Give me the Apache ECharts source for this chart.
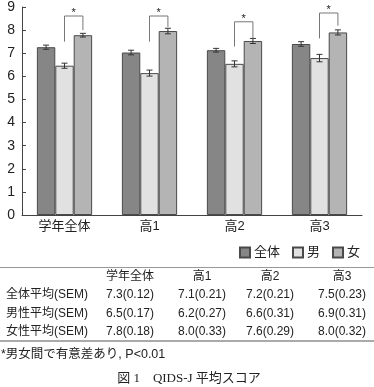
<!DOCTYPE html>
<html><head><meta charset="utf-8">
<script src="https://cdn.jsdelivr.net/npm/echarts@6/dist/echarts.min.js"></script>
<style>html,body{margin:0;padding:0;background:#fff}#c{width:374px;height:387px}</style>
</head><body><div id="c"></div>
<script>
const categories = ['学年全体', '高1', '高2', '高3'];
const seriesNames = ['全体', '男', '女'];
const allMean = [7.26, 7.03, 7.13, 7.40];
const maleMean = [6.46, 6.14, 6.54, 6.79];
const femaleMean = [7.78, 7.96, 7.53, 7.90];
const allErr = [0.09, 0.10, 0.08, 0.10];
const maleErr = [0.11, 0.13, 0.13, 0.16];
const femaleErr = [0.08, 0.12, 0.11, 0.11];
const bracketLeft = [7.5, 7.5, 7.29, 7.64];
const bracketRight = [8.0, 8.14, 7.64, 8.19];
const bracketTop = [8.61, 8.61, 8.36, 8.74];
const yMin = 0, yMax = 9;
const tableHeader = ['学年全体', '高1', '高2', '高3'];
const tableRowLabels = ['全体平均(SEM)', '男性平均(SEM)', '女性平均(SEM)'];
const tableAll = ['7.3(0.12)', '7.1(0.21)', '7.2(0.21)', '7.5(0.23)'];
const tableMale = ['6.5(0.17)', '6.2(0.27)', '6.6(0.31)', '6.9(0.31)'];
const tableFemale = ['7.8(0.18)', '8.0(0.33)', '7.6(0.29)', '8.0(0.32)'];
const footnote = '*男女間で有意差あり, P<0.01';
const caption = '図 1　QIDS-J 平均スコア';

const colors = ['#868686', '#e1e1e1', '#b4b4b4'];
const means = [allMean, maleMean, femaleMean];
const errs = [allErr, maleErr, femaleErr];
const GAP = 0.35;
const SANS = '"Liberation Sans", "Noto Sans CJK JP", sans-serif';
const SERIF = '"Liberation Serif", "Noto Sans CJK JP", serif';

const chart = echarts.init(document.getElementById('c'));

const barSeries = seriesNames.map((n, i) => ({
  name: n, type: 'bar', data: means[i],
  barGap: '0%', barCategoryGap: (GAP * 100) + '%',
  itemStyle: { color: colors[i], borderColor: '#4a4a4a', borderWidth: 1 },
  emphasis: { disabled: true }, z: 2
}));

const errData = [];
for (let s = 0; s < 3; s++) for (let c = 0; c < categories.length; c++) errData.push([c, means[s][c], errs[s][c], s]);

const errSeries = {
  type: 'custom', data: errData, encode: { x: 0, y: 1 }, z: 5, clip: false, silent: true,
  renderItem: function (params, api) {
    const c = api.value(0), v = api.value(1), e = api.value(2), s = api.value(3);
    const band = api.size([1, 0])[0];
    const bw = band * (1 - GAP) / 3;
    const x = api.coord([c, v])[0] + (s - 1) * bw;
    const yHi = api.coord([c, v + e])[1], yLo = api.coord([c, v - e])[1];
    const st = { stroke: '#333', lineWidth: 1 };
    return { type: 'group', children: [
      { type: 'line', shape: { x1: x, y1: yHi, x2: x, y2: yLo }, style: st },
      { type: 'line', shape: { x1: x - 3, y1: yHi, x2: x + 3, y2: yHi }, style: st },
      { type: 'line', shape: { x1: x - 3, y1: yLo, x2: x + 3, y2: yLo }, style: st }
    ]};
  }
};

const brData = categories.map((_, c) => [c, bracketLeft[c], bracketRight[c], bracketTop[c]]);
const bracketSeries = {
  type: 'custom', data: brData, encode: { x: 0, y: 3 }, z: 6, clip: false, silent: true,
  renderItem: function (params, api) {
    const c = api.value(0);
    const band = api.size([1, 0])[0];
    const bw = band * (1 - GAP) / 3;
    const cx = api.coord([c, 0])[0];
    const xl = cx, xr = cx + bw;
    const yl = api.coord([c, api.value(1)])[1];
    const yr = api.coord([c, api.value(2)])[1];
    const yt = api.coord([c, api.value(3)])[1];
    return { type: 'group', children: [
      { type: 'polyline', shape: { points: [[xl, yl], [xl, yt], [xr, yt], [xr, yr]] },
        style: { stroke: '#777', lineWidth: 1, fill: null } },
      { type: 'text', x: (xl + xr) / 2, y: yt - 3,
        style: { text: '*', fontSize: 11, fontFamily: SANS, fill: '#222', align: 'center', verticalAlign: 'middle' } }
    ]};
  }
};

const colX = [130, 202, 270, 342];
const rowY = [295, 314, 332];
const graphics = [];
graphics.push({ type: 'line', shape: { x1: 0, y1: 267.5, x2: 374, y2: 267.5 }, style: { stroke: '#999', lineWidth: 1 } });
graphics.push({ type: 'line', shape: { x1: 0, y1: 341, x2: 374, y2: 341 }, style: { stroke: '#aaa', lineWidth: 2 } });
tableHeader.forEach((t, i) => graphics.push({ type: 'text', x: colX[i], y: 277,
  style: { text: t, fontSize: 12, fontFamily: SANS, fill: '#222', align: 'center', verticalAlign: 'middle' } }));
const rows = [tableAll, tableMale, tableFemale];
tableRowLabels.forEach((t, r) => {
  graphics.push({ type: 'text', x: 6, y: rowY[r],
    style: { text: t, fontSize: 12, fontFamily: SANS, fill: '#222', align: 'left', verticalAlign: 'middle' } });
  rows[r].forEach((v, i) => graphics.push({ type: 'text', x: colX[i], y: rowY[r],
    style: { text: v, fontSize: 12, fontFamily: SANS, fill: '#222', align: 'center', verticalAlign: 'middle' } }));
});
graphics.push({ type: 'text', x: 1, y: 355,
  style: { text: footnote, fontSize: 12.5, fontFamily: SANS, fill: '#222', align: 'left', verticalAlign: 'middle' } });
graphics.push({ type: 'text', x: 189, y: 379,
  style: { text: caption, fontSize: 13, fontFamily: SERIF, fill: '#222', align: 'center', verticalAlign: 'middle' } });

chart.setOption({
  animation: false,
  backgroundColor: '#fff',
  grid: { left: 22, right: 12, top: 5, bottom: 172, containLabel: false },
  legend: {
    data: seriesNames, right: 9, top: 241, itemWidth: 10, itemHeight: 10, itemGap: 12,
    icon: 'rect', selectedMode: false,
    textStyle: { fontSize: 13, fontFamily: SANS, color: '#222', padding: [0, 0, 0, -1] }
  },
  xAxis: {
    type: 'category', data: categories,
    axisLine: { lineStyle: { color: '#444', width: 1 } },
    axisTick: { inside: true, length: 4, lineStyle: { color: '#444' } },
    axisLabel: { fontSize: 13, fontFamily: SANS, color: '#222', margin: 5 }
  },
  yAxis: {
    type: 'value', min: yMin, max: yMax, interval: 1,
    splitLine: { show: false },
    axisLine: { show: true, lineStyle: { color: '#444', width: 1 } },
    axisTick: { show: true, inside: true, length: 4, lineStyle: { color: '#444' } },
    axisLabel: { fontSize: 14, fontFamily: SANS, color: '#222', margin: 7 }
  },
  series: [...barSeries, errSeries, bracketSeries],
  graphic: graphics
});
</script></body></html>
